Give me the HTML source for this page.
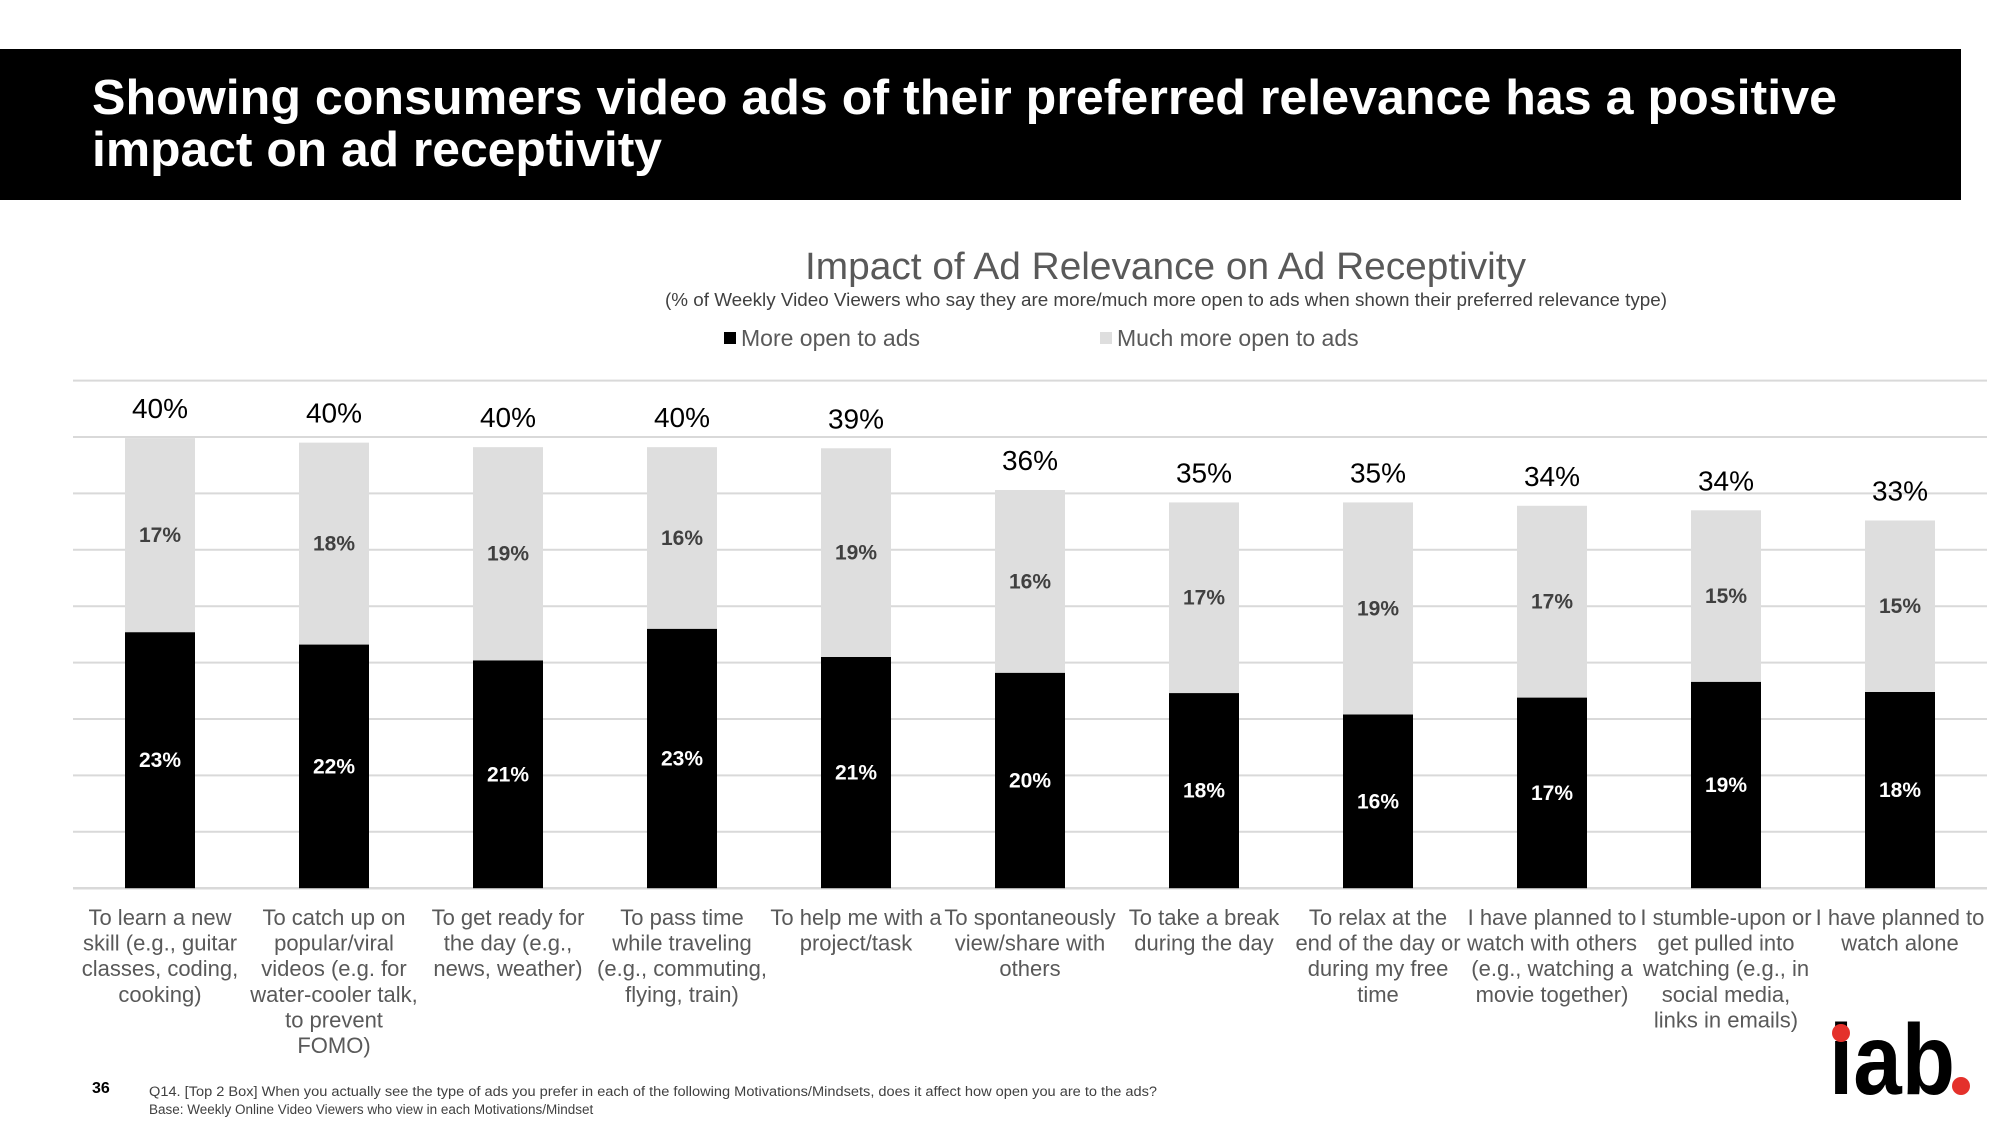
<!DOCTYPE html>
<html><head><meta charset="utf-8">
<style>
html,body{margin:0;padding:0;background:#fff;}
svg{display:block;font-family:"Liberation Sans",Arial,sans-serif;}
</style></head>
<body>
<svg id="chart" width="2000" height="1125" viewBox="0 0 2000 1125" xmlns="http://www.w3.org/2000/svg">
  <rect x="0" y="49" width="1961" height="151" fill="#000"/>
  <text fill="#fff" font-weight="bold" font-size="49">
    <tspan x="92" y="114" textLength="1745" lengthAdjust="spacingAndGlyphs">Showing consumers video ads of their preferred relevance has a positive</tspan>
    <tspan x="92" y="166" textLength="570" lengthAdjust="spacingAndGlyphs">impact on ad receptivity</tspan>
  </text>
  <text x="805" y="279" font-size="38" fill="#595959" textLength="721" lengthAdjust="spacingAndGlyphs">Impact of Ad Relevance on Ad Receptivity</text>
  <text x="665" y="306" font-size="18" fill="#404040" textLength="1002" lengthAdjust="spacingAndGlyphs">(% of Weekly Video Viewers who say they are more/much more open to ads when shown their preferred relevance type)</text>
  <g>
    <g>
      <rect x="724" y="332" width="12" height="12" fill="#000"/>
      <text x="741" y="346" font-size="23" fill="#595959">More open to ads</text>
    </g>
    <g>
      <rect x="1100" y="332" width="12" height="12" fill="#dedede"/>
      <text x="1117" y="346" font-size="23" fill="#595959">Much more open to ads</text>
    </g>
  </g>
  <g id="grid"></g>
  <g id="bars"></g>
  <g id="xlabels"></g>
  <text x="92" y="1093" font-size="16" font-weight="bold" fill="#000">36</text>
  <text x="149" y="1096" font-size="13.5" fill="#404040" textLength="1008" lengthAdjust="spacingAndGlyphs">Q14. [Top 2 Box] When you actually see the type of ads you prefer in each of the following Motivations/Mindsets, does it affect how open you are to the ads?</text>
  <text x="149" y="1114" font-size="13.5" fill="#404040">Base: Weekly Online Video Viewers who view in each Motivations/Mindset</text>
  <g>
    <text x="1829" y="1094" font-size="100" font-weight="bold" fill="#000" textLength="126" lengthAdjust="spacingAndGlyphs">iab</text>
    <circle cx="1841" cy="1033" r="9" fill="#e4312b"/>
    <circle cx="1961" cy="1086" r="9" fill="#e4312b"/>
  </g>
</svg>
<script>
const categories = [
  ["To learn a new","skill (e.g., guitar","classes, coding,","cooking)"],
  ["To catch up on","popular/viral","videos (e.g. for","water-cooler talk,","to prevent","FOMO)"],
  ["To get ready for","the day (e.g.,","news, weather)"],
  ["To pass time","while traveling","(e.g., commuting,","flying, train)"],
  ["To help me with a","project/task"],
  ["To spontaneously","view/share with","others"],
  ["To take a break","during the day"],
  ["To relax at the","end of the day or","during my free","time"],
  ["I have planned to","watch with others","(e.g., watching a","movie together)"],
  ["I stumble-upon or","get pulled into","watching (e.g., in","social media,","links in emails)"],
  ["I have planned to","watch alone"]
];
const moreOpen = [22.7, 21.6, 20.2, 23.0, 20.5, 19.1, 17.3, 15.4, 16.9, 18.3, 17.4];
const muchMore = [17.2, 17.9, 18.9, 16.1, 18.5, 16.2, 16.9, 18.8, 17.0, 15.2, 15.2];
const moreOpenLabels = ["23%","22%","21%","23%","21%","20%","18%","16%","17%","19%","18%"];
const muchMoreLabels = ["17%","18%","19%","16%","19%","16%","17%","19%","17%","15%","15%"];
const totalLabels = ["40%","40%","40%","40%","39%","36%","35%","35%","34%","34%","33%"];
const gridTicks = [0,5,10,15,20,25,30,35,40,45];

const NS = "http://www.w3.org/2000/svg";
const plotL = 73, plotR = 1987, y0 = 888.2, pxPer = 11.28;
const band = (plotR - plotL) / categories.length, barW = 70;
function yScale(v){ return y0 - v * pxPer; }
function xCenter(i){ return plotL + band * (i + 0.5); }
function mk(tag, attrs, parent){ const e = document.createElementNS(NS, tag); for (const k in attrs) e.setAttribute(k, attrs[k]); parent.appendChild(e); return e; }

const grid = document.getElementById('grid');
gridTicks.forEach(t => {
  const l = mk('line', {x1: plotL, x2: plotR, y1: yScale(t), y2: yScale(t), stroke: '#d9d9d9', 'stroke-width': t === 0 ? 2.5 : 2}, grid);
  
  
});

const bars = document.getElementById('bars');
const xl = document.getElementById('xlabels');
categories.forEach((cat, i) => {
  const cx = xCenter(i), x = cx - barW / 2;
  const a = moreOpen[i], b = muchMore[i];
  const r1 = mk('rect', {x: x, y: yScale(a), width: barW, height: y0 - yScale(a), fill: '#000'}, bars);
  
  
  const r2 = mk('rect', {x: x, y: yScale(a + b), width: barW, height: yScale(a) - yScale(a + b), fill: '#dedede'}, bars);
  
  
  const t1 = mk('text', {x: cx, y: (yScale(a) + y0) / 2 + 7, 'text-anchor': 'middle', 'font-size': 21, 'font-weight': 'bold', fill: '#fff'}, bars);
  t1.textContent = moreOpenLabels[i];
  
  
  const t2 = mk('text', {x: cx, y: (yScale(a) + yScale(a + b)) / 2 + 7, 'text-anchor': 'middle', 'font-size': 21, 'font-weight': 'bold', fill: '#404040'}, bars);
  t2.textContent = muchMoreLabels[i];
  
  
  const t3 = mk('text', {x: cx, y: yScale(a + b) - 20, 'text-anchor': 'middle', 'font-size': 28, fill: '#000'}, bars);
  t3.textContent = totalLabels[i];
  
  
  const lab = mk('text', {'text-anchor': 'middle', 'font-size': 22, fill: '#595959'}, xl);
  
  
  cat.forEach((line, j) => {
    const ts = mk('tspan', {x: cx, y: 925 + j * 25.6}, lab);
    ts.textContent = line;
  });
});
</script>
</body></html>
